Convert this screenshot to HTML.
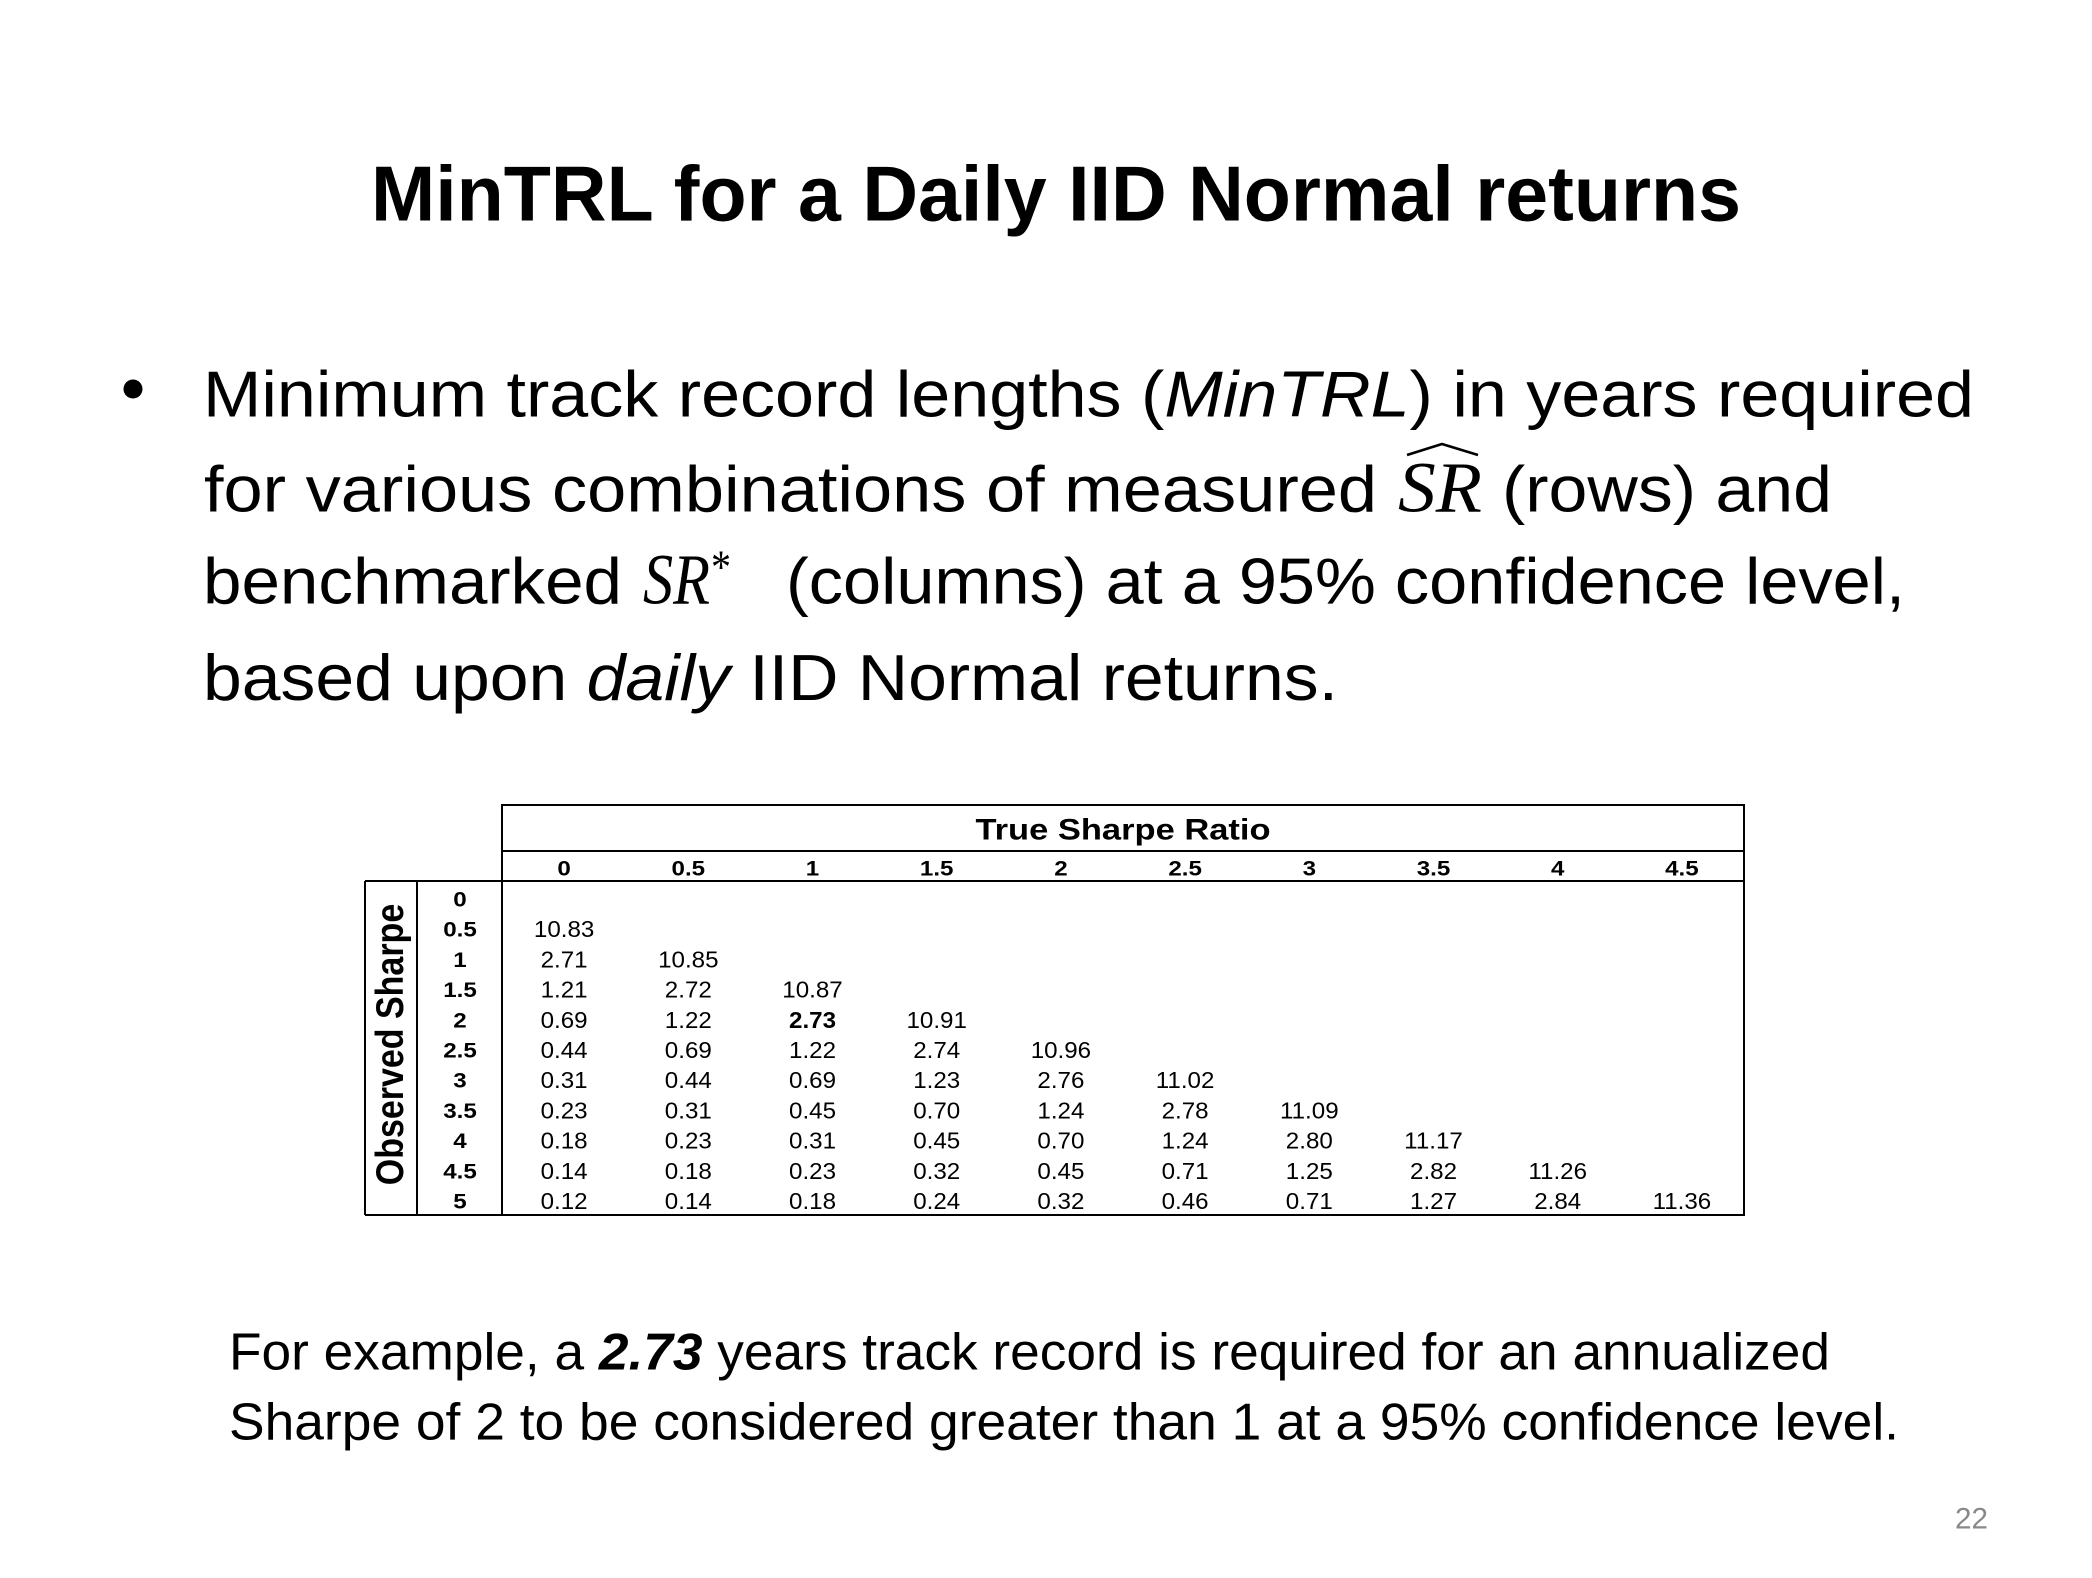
<!DOCTYPE html>
<html>
<head>
<meta charset="utf-8">
<style>
  html, body { margin:0; padding:0; background:#ffffff; }
  body { width:2092px; height:1578px; overflow:hidden; }
  svg { display:block; }
  .sans { font-family: "Liberation Sans", Arial, sans-serif; }
  .serif { font-family: "Liberation Serif", "Times New Roman", serif; }
  .t { font-family: "Liberation Sans", Arial, sans-serif; text-anchor: middle; fill:#000; }
  .d { font-size:23px; }
  .h { font-size:21px; font-weight:bold; }
</style>
</head>
<body>
<svg width="2092" height="1578" viewBox="0 0 2092 1578" xmlns="http://www.w3.org/2000/svg">
  <rect x="0" y="0" width="2092" height="1578" fill="#ffffff"/>

  <!-- Title -->
  <text class="sans" x="371" y="220.7" font-size="78" font-weight="bold" fill="#000" textLength="1370" lengthAdjust="spacingAndGlyphs">MinTRL for a Daily IID Normal returns</text>

  <!-- Bullet -->
  <circle cx="133" cy="389" r="9.5" fill="#000"/>

  <!-- Bullet line 1 -->
  <text class="sans" x="203" y="416.7" font-size="65" fill="#000" textLength="1771" lengthAdjust="spacingAndGlyphs">Minimum track record lengths (<tspan font-style="italic">MinTRL</tspan>) in years required</text>

  <!-- Bullet line 2 -->
  <text class="sans" x="204" y="511.7" font-size="65" fill="#000" textLength="1173" lengthAdjust="spacingAndGlyphs">for various combinations of measured</text>
  <text class="serif" x="1398" y="511.7" font-size="72" font-style="italic" fill="#000" textLength="84" lengthAdjust="spacingAndGlyphs">SR</text>
  <polyline points="1407,455 1442,444 1478,455" fill="none" stroke="#000" stroke-width="2.6"/>
  <text class="sans" x="1502" y="511.7" font-size="65" fill="#000" textLength="330" lengthAdjust="spacingAndGlyphs">(rows) and</text>

  <!-- Bullet line 3 -->
  <text class="sans" x="203" y="603.3" font-size="65" fill="#000" textLength="419" lengthAdjust="spacingAndGlyphs">benchmarked</text>
  <text class="serif" x="643" y="603.3" font-size="72" font-style="italic" fill="#000" textLength="67" lengthAdjust="spacingAndGlyphs">SR</text>
  <text class="serif" x="711" y="583" font-size="48" fill="#000" textLength="20" lengthAdjust="spacingAndGlyphs">*</text>
  <text class="sans" x="786" y="603.3" font-size="65" fill="#000" textLength="1119" lengthAdjust="spacingAndGlyphs">(columns) at a 95% confidence level,</text>

  <!-- Bullet line 4 -->
  <text class="sans" x="203" y="700" font-size="65" fill="#000" textLength="1135" lengthAdjust="spacingAndGlyphs">based upon <tspan font-style="italic">daily</tspan> IID Normal returns.</text>

  <!-- Table lines -->
  <g stroke="#000" stroke-width="2" fill="none">
    <rect x="502" y="805" width="1242" height="410"/>
    <line x1="502" y1="851" x2="1744" y2="851"/>
    <line x1="365" y1="881" x2="1744" y2="881"/>
    <line x1="365" y1="881" x2="365" y2="1215"/>
    <line x1="417" y1="881" x2="417" y2="1215"/>
    <line x1="365" y1="1215" x2="1744" y2="1215"/>
  </g>

  <!-- Table header -->
  <text class="t" font-size="30" font-weight="bold" transform="translate(1123 839.7) scale(1.15 1)">True Sharpe Ratio</text>

  <g class="t h">
    <text transform="translate(564.1 875.5) scale(1.15 1)">0</text>
    <text transform="translate(688.3 875.5) scale(1.15 1)">0.5</text>
    <text transform="translate(812.5 875.5) scale(1.15 1)">1</text>
    <text transform="translate(936.7 875.5) scale(1.15 1)">1.5</text>
    <text transform="translate(1060.9 875.5) scale(1.15 1)">2</text>
    <text transform="translate(1185.1 875.5) scale(1.15 1)">2.5</text>
    <text transform="translate(1309.3 875.5) scale(1.15 1)">3</text>
    <text transform="translate(1433.5 875.5) scale(1.15 1)">3.5</text>
    <text transform="translate(1557.7 875.5) scale(1.15 1)">4</text>
    <text transform="translate(1681.9 875.5) scale(1.15 1)">4.5</text>
  </g>

  <!-- Observed Sharpe vertical label -->
  <text class="t" font-size="34" font-weight="bold" transform="translate(403 1044.5) scale(1.15 1) rotate(-90)">Observed Sharpe</text>

  <!-- Row labels -->
  <g class="t h">
    <text transform="translate(460 906.5) scale(1.15 1)">0</text>
    <text transform="translate(460 936.7) scale(1.15 1)">0.5</text>
    <text transform="translate(460 966.9) scale(1.15 1)">1</text>
    <text transform="translate(460 997.1) scale(1.15 1)">1.5</text>
    <text transform="translate(460 1027.3) scale(1.15 1)">2</text>
    <text transform="translate(460 1057.5) scale(1.15 1)">2.5</text>
    <text transform="translate(460 1087.7) scale(1.15 1)">3</text>
    <text transform="translate(460 1117.9) scale(1.15 1)">3.5</text>
    <text transform="translate(460 1148.1) scale(1.15 1)">4</text>
    <text transform="translate(460 1178.3) scale(1.15 1)">4.5</text>
    <text transform="translate(460 1208.5) scale(1.15 1)">5</text>
  </g>

  <!-- Data cells -->
  <g class="t d">
    <text transform="translate(564.1 937.2) scale(1.05 1)">10.83</text>

    <text transform="translate(564.1 967.4) scale(1.05 1)">2.71</text>
    <text transform="translate(688.3 967.4) scale(1.05 1)">10.85</text>

    <text transform="translate(564.1 997.6) scale(1.05 1)">1.21</text>
    <text transform="translate(688.3 997.6) scale(1.05 1)">2.72</text>
    <text transform="translate(812.5 997.6) scale(1.05 1)">10.87</text>

    <text transform="translate(564.1 1027.8) scale(1.05 1)">0.69</text>
    <text transform="translate(688.3 1027.8) scale(1.05 1)">1.22</text>
    <text transform="translate(812.5 1027.8) scale(1.05 1)" font-weight="bold">2.73</text>
    <text transform="translate(936.7 1027.8) scale(1.05 1)">10.91</text>

    <text transform="translate(564.1 1058) scale(1.05 1)">0.44</text>
    <text transform="translate(688.3 1058) scale(1.05 1)">0.69</text>
    <text transform="translate(812.5 1058) scale(1.05 1)">1.22</text>
    <text transform="translate(936.7 1058) scale(1.05 1)">2.74</text>
    <text transform="translate(1060.9 1058) scale(1.05 1)">10.96</text>

    <text transform="translate(564.1 1088.2) scale(1.05 1)">0.31</text>
    <text transform="translate(688.3 1088.2) scale(1.05 1)">0.44</text>
    <text transform="translate(812.5 1088.2) scale(1.05 1)">0.69</text>
    <text transform="translate(936.7 1088.2) scale(1.05 1)">1.23</text>
    <text transform="translate(1060.9 1088.2) scale(1.05 1)">2.76</text>
    <text transform="translate(1185.1 1088.2) scale(1.05 1)">11.02</text>

    <text transform="translate(564.1 1118.4) scale(1.05 1)">0.23</text>
    <text transform="translate(688.3 1118.4) scale(1.05 1)">0.31</text>
    <text transform="translate(812.5 1118.4) scale(1.05 1)">0.45</text>
    <text transform="translate(936.7 1118.4) scale(1.05 1)">0.70</text>
    <text transform="translate(1060.9 1118.4) scale(1.05 1)">1.24</text>
    <text transform="translate(1185.1 1118.4) scale(1.05 1)">2.78</text>
    <text transform="translate(1309.3 1118.4) scale(1.05 1)">11.09</text>

    <text transform="translate(564.1 1148.6) scale(1.05 1)">0.18</text>
    <text transform="translate(688.3 1148.6) scale(1.05 1)">0.23</text>
    <text transform="translate(812.5 1148.6) scale(1.05 1)">0.31</text>
    <text transform="translate(936.7 1148.6) scale(1.05 1)">0.45</text>
    <text transform="translate(1060.9 1148.6) scale(1.05 1)">0.70</text>
    <text transform="translate(1185.1 1148.6) scale(1.05 1)">1.24</text>
    <text transform="translate(1309.3 1148.6) scale(1.05 1)">2.80</text>
    <text transform="translate(1433.5 1148.6) scale(1.05 1)">11.17</text>

    <text transform="translate(564.1 1178.8) scale(1.05 1)">0.14</text>
    <text transform="translate(688.3 1178.8) scale(1.05 1)">0.18</text>
    <text transform="translate(812.5 1178.8) scale(1.05 1)">0.23</text>
    <text transform="translate(936.7 1178.8) scale(1.05 1)">0.32</text>
    <text transform="translate(1060.9 1178.8) scale(1.05 1)">0.45</text>
    <text transform="translate(1185.1 1178.8) scale(1.05 1)">0.71</text>
    <text transform="translate(1309.3 1178.8) scale(1.05 1)">1.25</text>
    <text transform="translate(1433.5 1178.8) scale(1.05 1)">2.82</text>
    <text transform="translate(1557.7 1178.8) scale(1.05 1)">11.26</text>

    <text transform="translate(564.1 1209) scale(1.05 1)">0.12</text>
    <text transform="translate(688.3 1209) scale(1.05 1)">0.14</text>
    <text transform="translate(812.5 1209) scale(1.05 1)">0.18</text>
    <text transform="translate(936.7 1209) scale(1.05 1)">0.24</text>
    <text transform="translate(1060.9 1209) scale(1.05 1)">0.32</text>
    <text transform="translate(1185.1 1209) scale(1.05 1)">0.46</text>
    <text transform="translate(1309.3 1209) scale(1.05 1)">0.71</text>
    <text transform="translate(1433.5 1209) scale(1.05 1)">1.27</text>
    <text transform="translate(1557.7 1209) scale(1.05 1)">2.84</text>
    <text transform="translate(1681.9 1209) scale(1.05 1)">11.36</text>
  </g>

  <!-- Bottom text -->
  <text class="sans" x="229" y="1369.5" font-size="52" fill="#000" textLength="1601" lengthAdjust="spacingAndGlyphs">For example, a <tspan font-weight="bold" font-style="italic">2.73</tspan> years track record is required for an annualized</text>
  <text class="sans" x="229" y="1439.3" font-size="52" fill="#000" textLength="1670" lengthAdjust="spacingAndGlyphs">Sharpe of 2 to be considered greater than 1 at a 95% confidence level.</text>

  <!-- Page number -->
  <text class="sans" x="1955" y="1528.3" font-size="30" fill="#898989" textLength="33" lengthAdjust="spacingAndGlyphs">22</text>
</svg>
</body>
</html>
